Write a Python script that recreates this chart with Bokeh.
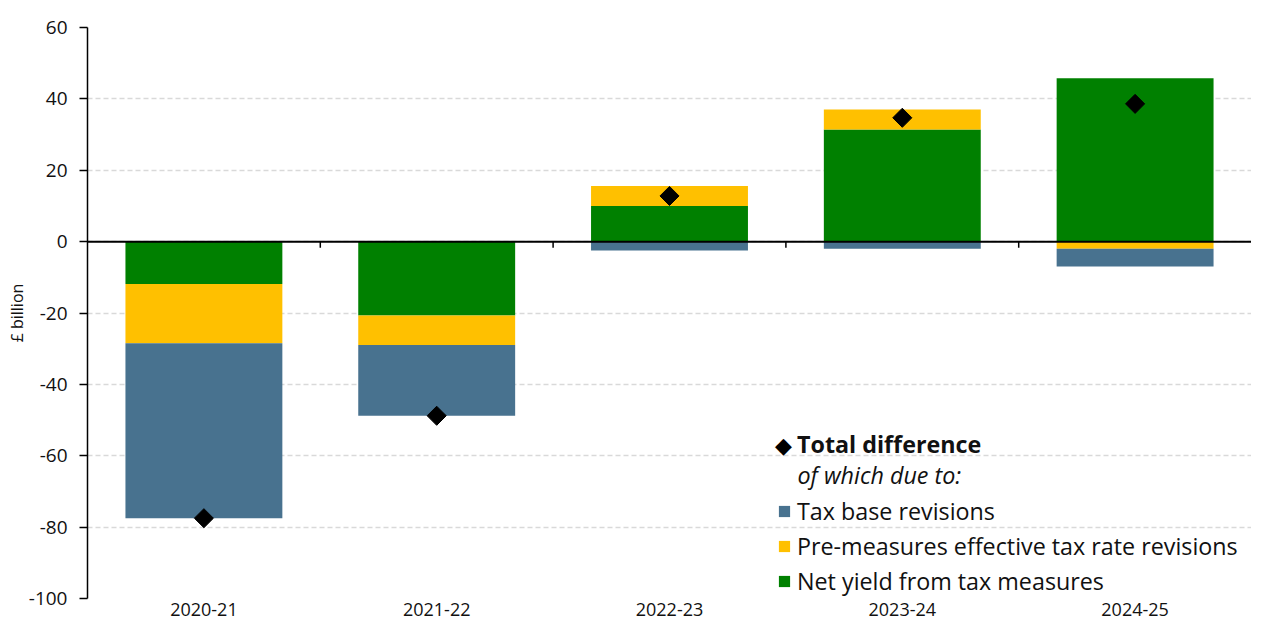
import numpy as np
from bokeh.plotting import figure
from bokeh.models import (Range1d, FactorRange, ColumnDataSource, Legend, LegendItem,
                          Label, Span, FixedTicker, PrintfTickFormatter)
from bokeh.transform import dodge
from bokeh.embed import file_html
from bokeh.resources import INLINE

# ---- data ----
years = ["2020-21", "2021-22", "2022-23", "2023-24", "2024-25"]
tax_base = [-49.0, -19.8, -2.5, -2.0, -5.0]
eff_rate = [-16.6, -8.3, 5.6, 5.6, -2.0]
measures = [-11.9, -20.7, 10.0, 31.4, 45.8]
total = [-77.5, -48.8, 12.8, 34.7, 38.6]
y_ticks = [-100, -80, -60, -40, -20, 0, 20, 40, 60]

series_names = ["Net yield from tax measures",
                "Pre-measures effective tax rate revisions",
                "Tax base revisions"]
series_values = [measures, eff_rate, tax_base]
series_colors = ["#008000", "#FFC000", "#48728F"]

FONT = "Open Sans"
TEXT = "#111111"

p = figure(x_range=FactorRange(*years, range_padding=0), y_range=Range1d(-100, 60),
           width=1251, height=628, output_backend="svg", toolbar_location=None,
           min_border_left=87, min_border_right=0, min_border_top=27, min_border_bottom=30)
p.outline_line_color = None
p.background_fill_color = "white"

# grid
p.xgrid.visible = False
p.ygrid.ticker = FixedTicker(ticks=y_ticks)
p.ygrid.grid_line_color = "#D9D9D9"
p.ygrid.grid_line_dash = "5 3"
p.ygrid.grid_line_width = 1.5

# stacked bars (positive and negative stacked separately)
pos_base = np.zeros(len(years))
neg_base = np.zeros(len(years))
bar_renderers = {}
for name, vals, col in zip(series_names, series_values, series_colors):
    v = np.array(vals, dtype=float)
    bottom = np.where(v >= 0, pos_base, neg_base)
    top = bottom + v
    pos_base = np.where(v >= 0, top, pos_base)
    neg_base = np.where(v < 0, top, neg_base)
    src = ColumnDataSource(dict(x=years, bottom=bottom, top=top))
    r = p.vbar(x="x", bottom="bottom", top="top", width=0.674, source=src,
               fill_color=col, line_color=None)
    bar_renderers[name] = r

# zero line
p.add_layout(Span(location=0, dimension="width", line_color="black", line_width=2))

# small category-boundary ticks on the zero line
bsrc = ColumnDataSource(dict(x=years[:-1], y0=[0] * 4, y1=[-1.7] * 4))
p.segment(x0=dodge("x", 0.5, range=p.x_range), y0="y0",
          x1=dodge("x", 0.5, range=p.x_range), y1="y1",
          source=bsrc, line_color="black", line_width=1.5)

# total markers
tsrc = ColumnDataSource(dict(x=years, y=total))
tot_r = p.scatter(x="x", y="y", source=tsrc, marker="square", angle=np.pi / 4,
                  size=13.5, fill_color="black", line_color="black")

# axes
ya = p.yaxis[0]
ya.ticker = FixedTicker(ticks=y_ticks)
ya.formatter = PrintfTickFormatter(format="%d")
ya.axis_line_color = "black"
ya.axis_line_width = 1.5
ya.major_tick_line_color = "black"
ya.major_tick_line_width = 1.5
ya.major_tick_out = 8
ya.major_tick_in = 0
ya.minor_tick_line_color = None
ya.major_label_text_font = FONT
ya.major_label_text_font_size = "19px"
ya.major_label_text_color = TEXT
ya.major_label_standoff = 12
ya.axis_label = "£ billion"
ya.axis_label_text_font = FONT
ya.axis_label_text_font_size = "16px"
ya.axis_label_text_font_style = "normal"
ya.axis_label_text_color = TEXT
ya.axis_label_standoff = -2

xa = p.xaxis[0]
xa.axis_line_color = None
xa.major_tick_line_color = None
xa.major_tick_out = 0
xa.major_tick_in = 0
xa.minor_tick_line_color = None
xa.major_label_text_font = FONT
xa.major_label_text_font_size = "18px"
xa.major_label_text_color = TEXT
xa.major_label_standoff = 4

# legends
LEG_FS = "23.3px"
leg1 = Legend(items=[LegendItem(label="Total difference", renderers=[tot_r])],
              location=(710, 138), orientation="vertical",
              glyph_width=0, glyph_height=14, label_standoff=0, padding=0, margin=0,
              spacing=0, label_height=30,
              label_text_font=FONT, label_text_font_size=LEG_FS,
              label_text_font_style="bold", label_text_color=TEXT,
              background_fill_alpha=0, border_line_color=None)
leg2 = Legend(items=[LegendItem(label=n, renderers=[bar_renderers[n]])
                     for n in ["Tax base revisions",
                               "Pre-measures effective tax rate revisions",
                               "Net yield from tax measures"]],
              location=(690, 1), orientation="vertical",
              glyph_width=14, glyph_height=14, label_standoff=6, padding=0, margin=0,
              spacing=3, label_height=30,
              label_text_font=FONT, label_text_font_size=LEG_FS, label_text_color=TEXT,
              background_fill_alpha=0, border_line_color=None)
p.add_layout(leg1, "center")
p.add_layout(leg2, "center")

# diamond symbol for the "Total difference" legend entry
p.add_layout(Label(x=696, y=153, x_units="screen", y_units="screen", text="\u25c6",
                   text_font="DejaVu Sans", text_font_size="22px", text_color="black",
                   text_align="center", text_baseline="middle"))
p.add_layout(Label(x=710, y=124, x_units="screen", y_units="screen",
                   text="of which due to:", text_font=FONT, text_font_size=LEG_FS,
                   text_font_style="italic", text_color=TEXT, text_baseline="middle"))

open("out.html", "w").write(file_html(p, INLINE))
